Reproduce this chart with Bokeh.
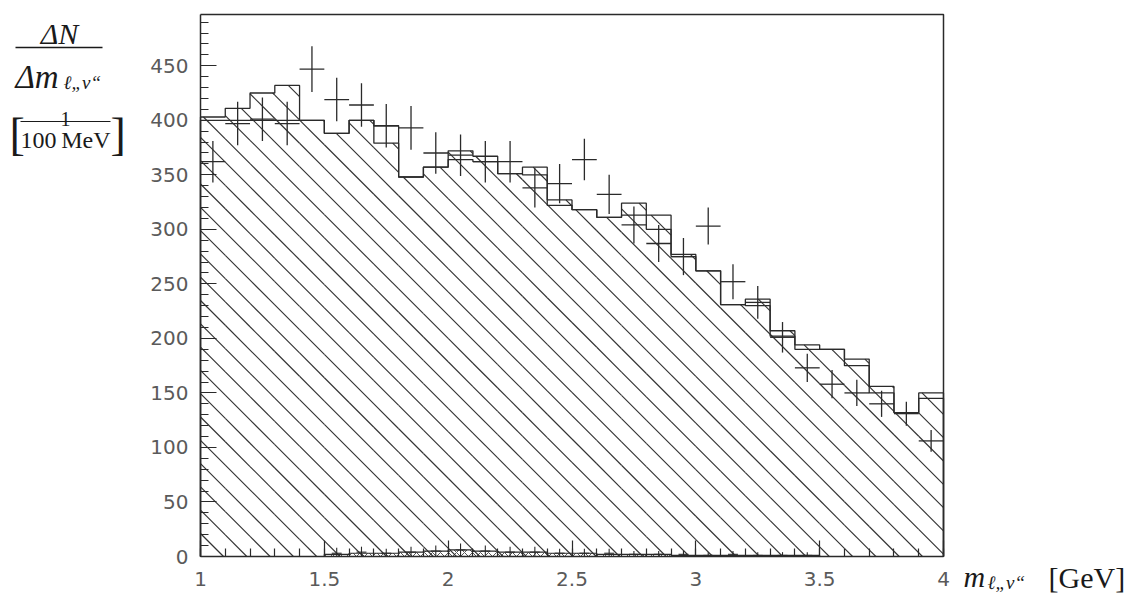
from bokeh.plotting import figure
from bokeh.models import Range1d, SingleIntervalTicker, NumeralTickFormatter, Label, Arrow
from bokeh.embed import file_html
from bokeh.resources import INLINE

# ---------------- data ----------------
edges = [1.0, 1.1, 1.2, 1.3, 1.4, 1.5, 1.6, 1.7, 1.8, 1.9, 2.0, 2.1, 2.2, 2.3, 2.4,
         2.5, 2.6, 2.7, 2.8, 2.9, 3.0, 3.1, 3.2, 3.3, 3.4, 3.5, 3.6, 3.7, 3.8, 3.9, 4.0]

# hatched Monte-Carlo histogram (entries / 100 MeV)
mc_hatched = [403, 411, 425, 432, 400, 388, 400, 379, 348, 357, 372, 367, 351, 357, 327,
              318, 311, 324, 313, 277, 262, 231, 236, 207, 194, 190, 181, 156, 132, 150]
# open (line only) Monte-Carlo histogram
mc_line = [400, 400, 400, 400, 400, 388, 400, 395, 348, 357, 364, 362, 351, 350, 322,
           318, 311, 313, 300, 275, 262, 231, 230, 202, 190, 190, 175, 150, 132, 145]
# data points and their errors
data_y = [362, 397, 401, 397, 447, 419, 414, 395, 393, 370, 368, 362, 362, 338, 342,
          364, 332, 304, 287, 275, 303, 252, 233, 201, 173, 158, 150, 140, 131, 106]
data_err = [19, 20, 20, 20, 21, 20, 20, 20, 20, 19, 19, 19, 19, 18, 18,
            19, 18, 17, 17, 17, 17, 16, 15, 14, 13, 13, 12, 12, 11, 10]
# small background contribution near zero
bkg_mc = [0, 0, 0, 0, 0, 2, 3, 3, 4, 5, 6, 5, 4, 4, 3,
          3, 2, 2, 2, 1, 1, 1, 1, 1, 1, 0, 0, 0, 0, 0]
bkg_y = [0, 0, 0, 0, 0, 3, 4, 3, 4, 5, 6, 5, 4, 4, 3,
         3, 3, 2, 2, 2, 1, 2, 1, 1, 1, 0, 0, 0, 0, 0]
bkg_err = [0, 0, 0, 0, 0, 5, 5, 4, 5, 5, 6, 5, 5, 5, 4,
           4, 4, 3, 3, 3, 3, 3, 3, 3, 3, 0, 0, 0, 0, 0]

x_min, x_max = 1.0, 4.0
y_min, y_max = 0, 497

# ---------------- geometry helpers ----------------
W, H = 1130, 598
FL, FR, FT, FB = 200, 943, 14, 556   # plot box edges in page pixels
PX_X = (FR - FL) / (x_max - x_min)   # pixels per GeV
PX_Y = (FB - FT) / (y_max - y_min)   # pixels per entry


def dx(px):
    return x_min + (px - FL) / PX_X


def dy(py):
    return y_min + (FB - py) / PX_Y


LINE = "#2a2a2a"

p = figure(width=W, height=H, x_range=Range1d(dx(0), dx(W)), y_range=Range1d(dy(H), dy(0)),
           output_backend="svg", toolbar_location=None,
           min_border_left=0, min_border_right=0, min_border_top=0, min_border_bottom=0)
p.grid.visible = False
p.background_fill_color = "white"
p.border_fill_color = "white"
p.outline_line_color = None

lo = edges[:-1]
hi = edges[1:]
centers = [(a + b) / 2 for a, b in zip(lo, hi)]


def step_shape(vals):
    xs, ys = [edges[0]], [0]
    for a, b, v in zip(lo, hi, vals):
        xs += [a, b]
        ys += [v, v]
    xs.append(edges[-1])
    ys.append(0)
    return xs, ys


# 45-degree hatching ("\") of the hatched histogram, clipped to its bins
S = PX_X / PX_Y                 # entries per GeV along a 45 degree line
gap = 23.3 / PX_X               # spacing of hatch lines along the x axis
c = dx(223) - gap * 60
hx0, hy0, hx1, hy1 = [], [], [], []
while c < x_max + max(mc_hatched) / S:
    for a, b, v in zip(lo, hi, mc_hatched):
        s0 = max(a, c - v / S)
        s1 = min(b, c)
        if s1 > s0:
            hx0.append(s0); hy0.append(S * (c - s0))
            hx1.append(s1); hy1.append(S * (c - s1))
    c += gap
p.segment(x0=hx0, y0=hy0, x1=hx1, y1=hy1, line_color="#333333", line_width=1.15)

# outline of the hatched histogram
hx, hy = step_shape(mc_hatched)
p.line(hx, hy, line_color=LINE, line_width=1.3)
# open histogram
lx, ly = step_shape(mc_line)
p.line(lx, ly, line_color=LINE, line_width=1.3)

# small background histogram near zero
bx, by = step_shape(bkg_mc)
p.patch(bx, by, fill_alpha=0, line_color=LINE, line_width=1.2,
        hatch_pattern="diagonal_cross", hatch_color=LINE, hatch_scale=8, hatch_weight=0.8)

# data points
p.segment(x0=centers, y0=[y - e for y, e in zip(data_y, data_err)],
          x1=centers, y1=[y + e for y, e in zip(data_y, data_err)], line_color=LINE, line_width=1.3)
p.segment(x0=lo, y0=data_y, x1=hi, y1=data_y, line_color=LINE, line_width=1.3)

# small background points
bk = [i for i, e in enumerate(bkg_err) if e > 0]
p.segment(x0=[centers[i] for i in bk], y0=[max(bkg_y[i] - bkg_err[i], 0) for i in bk],
          x1=[centers[i] for i in bk], y1=[bkg_y[i] + bkg_err[i] for i in bk], line_color=LINE, line_width=1.1)
p.segment(x0=[lo[i] + 0.03 for i in bk], y0=[bkg_y[i] for i in bk],
          x1=[hi[i] - 0.03 for i in bk], y1=[bkg_y[i] for i in bk], line_color=LINE, line_width=1.1)

# top and right edges of the plot box
p.line([x_min, x_max, x_max], [y_max, y_max, y_min], line_color=LINE, line_width=1.5)

# ---------------- axes ----------------
xa = p.xaxis[0]
xa.ticker = SingleIntervalTicker(interval=0.5, num_minor_ticks=5)
xa.formatter = NumeralTickFormatter(format="0.[0]")
xa.fixed_location = y_min
xa.bounds = (x_min, x_max)
ya = p.yaxis[0]
ya.ticker = SingleIntervalTicker(interval=50, num_minor_ticks=5)
ya.fixed_location = x_min
ya.bounds = (y_min, y_max)
for ax in (xa, ya):
    ax.axis_line_color = LINE
    ax.axis_line_width = 1.5
    ax.major_tick_line_color = LINE
    ax.minor_tick_line_color = LINE
    ax.major_tick_line_width = 1.2
    ax.minor_tick_line_width = 1.2
    ax.major_tick_in = 16
    ax.major_tick_out = 0
    ax.minor_tick_in = 8
    ax.minor_tick_out = 0
    ax.major_label_text_font = "DejaVu Sans"
    ax.major_label_text_font_size = "20px"
    ax.major_label_text_color = "#5a5a5a"
xa.major_label_standoff = 15
ya.major_label_standoff = 12

# ---------------- titles ----------------
SERIF = "Liberation Serif"
TXT = "#1a1a1a"


def lab(text, px, py, size, style="italic", align="left"):
    p.add_layout(Label(x=dx(px), y=dy(py), text=text, text_font=SERIF, text_font_size=size,
                       text_font_style=style, text_color=TXT, text_align=align,
                       text_baseline="alphabetic"))


def bar(x0, x1, py, w=1.4):
    p.add_layout(Arrow(x_start=dx(x0), y_start=dy(py), x_end=dx(x1), y_end=dy(py),
                       start=None, end=None, line_color=TXT, line_width=w))


# y-axis title  dN / dm  [1/100 MeV]
lab("ΔN", 59, 33, "30px", align="center")
bar(15, 102, 47)
lab("Δm", 15, 76, "33px")
lab("ℓ„ν“", 63, 82, "19px")
lab("[", 9, 134, "46px", style="normal")
lab("]", 110, 134, "46px", style="normal")
lab("1", 65, 118, "20px", style="normal", align="center")
bar(20, 110, 121, 1.1)
lab("100\u2009MeV", 65, 139, "24px", style="normal", align="center")

# x-axis title
lab("m", 963, 576, "30px")
lab("ℓ„ν“", 987, 582, "19px")
lab("[GeV]", 1048, 577, "30px", style="normal")

open("out.html", "w").write(file_html(p, INLINE))
